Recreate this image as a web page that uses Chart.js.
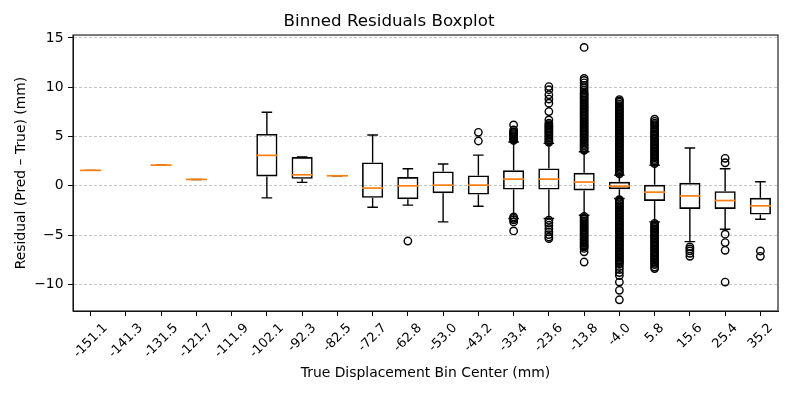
<!DOCTYPE html>
<html lang="en">
<head>
  <meta charset="UTF-8" />
  <title>Binned Residuals Boxplot</title>
  <script src="https://cdn.jsdelivr.net/npm/chart.js"></script>
  <style>
    body { margin: 0; background: #fff; }
    #wrap { width: 793px; height: 397px; }
  </style>
</head>
<body>
  <div id="wrap"><canvas id="boxChart" width="793" height="397"></canvas></div>

  <script>
    // bin centres (mm)
    const binLabels = ["-151.1", "-141.3", "-131.5", "-121.7", "-111.9", "-102.1", "-92.3", "-82.5", "-72.7", "-62.8",
                       "-53.0", "-43.2", "-33.4", "-23.6", "-13.8", "-4.0", "5.8", "15.6", "25.4", "35.2"];

    // box statistics per bin (null = empty bin)
    const median    = [1.57, null, 2.1, 0.65, null, 3.09, 1.12, 1.02, -0.23, 0.0, 0.07, 0.07, 0.68, 0.68, 0.38, -0.03, -0.64, -1.02, -1.49, -2.03];
    const q1        = [1.57, null, 2.1, 0.65, null, 0.95, 0.72, 1.02, -1.22, -1.35, -0.74, -0.88, -0.37, -0.37, -0.47, -0.34, -1.53, -2.34, -2.34, -2.91];
    const q3        = [1.57, null, 2.1, 0.65, null, 5.26, 2.92, 1.02, 2.38, 0.89, 1.46, 1.06, 1.57, 1.77, 1.32, 0.41, 0.10, 0.31, -0.54, -1.22];
    const whiskerLo = [1.57, null, 2.1, 0.65, null, -1.22, 0.35, 1.02, -2.17, -1.96, -3.66, -2.07, -3.32, -3.32, -2.98, -1.28, -3.66, -5.66, -4.41, -3.39];
    const whiskerHi = [1.57, null, 2.1, 0.65, null, 7.47, 2.92, 1.02, 5.16, 1.73, 2.21, 3.12, 4.45, 4.31, 3.46, 1.09, 2.10, 3.84, 1.73, 0.41];

    // fliers per bin
    const outliers = [
      [], [], [], [], [], [], [], [], [],
      [-5.6],
      [],
      [5.43, 4.55],
      [6.18, 5.67, 5.5, 5.4, 5.3, 5.2, 5.1, 5.0, 4.9, 4.8, 4.7, 4.6, -3.15, -3.3, -3.45, -3.66, -4.58],
      [10.07, 9.75, 9.23, 8.8, 8.39, 7.54, 6.69, 6.35, 6.2, 6.05, 5.9, 5.75, 5.6, 5.45, 5.3, 5.15, 5.0, 4.85, 4.7,
       4.55, 4.42, -3.49, -3.75, -4.0, -4.34, -4.68, -4.95, -5.19, -5.35],
      [14.04, 10.9, 10.7, 10.45, 10.2, 9.95, 9.7, 9.45, 9.3, 9.15, 9.0, 8.85, 8.7, 8.55, 8.4, 8.25, 8.1, 7.96, 7.8,
       7.65, 7.5, 7.34, 7.2, 7.06, 6.9, 6.75, 6.6, 6.46, 6.3, 6.15, 6.0, 5.86, 5.7, 5.55, 5.4, 5.26, 5.1, 4.95, 4.8,
       4.66, 4.5, 4.35, 4.2, 4.06, 3.9, 3.75, 3.6,
       -3.1, -3.25, -3.4, -3.56, -3.7, -3.85, -4.0, -4.16, -4.3, -4.45, -4.6, -4.76, -4.9, -5.05, -5.2, -5.36, -5.5,
       -5.65, -5.8, -5.96, -6.1, -6.2, -6.35, -6.7, -7.73],
      [1.2, 1.33, 1.47, 1.62, 1.76, 1.9, 2.05, 2.19, 2.34, 2.48, 2.63, 2.77, 2.92, 3.06, 3.21, 3.35, 3.5, 3.64, 3.79,
       3.93, 4.08, 4.22, 4.37, 4.51, 4.66, 4.8, 4.95, 5.09, 5.24, 5.38, 5.53, 5.67, 5.82, 5.96, 6.11, 6.25, 6.4, 6.54,
       6.69, 6.83, 6.98, 7.12, 7.27, 7.41, 7.56, 7.7, 7.85, 7.99, 8.14, 8.3, 8.48, 8.62, 8.75,
       -1.4, -1.54, -1.69, -1.83, -1.98, -2.12, -2.27, -2.41, -2.56, -2.7, -2.85, -2.99, -3.14, -3.28, -3.43, -3.57,
       -3.72, -3.86, -4.01, -4.15, -4.3, -4.44, -4.59, -4.73, -4.88, -5.02, -5.17, -5.31, -5.46, -5.6, -5.75, -5.89,
       -6.04, -6.18, -6.33, -6.47, -6.62, -6.76, -6.91, -7.05, -7.2, -7.34, -7.49, -7.63, -7.78, -7.92, -8.2, -8.5,
       -8.8, -9.1, -9.77, -10.6, -11.56],
      [2.25, 2.39, 2.54, 2.68, 2.83, 2.97, 3.12, 3.26, 3.41, 3.55, 3.7, 3.84, 3.99, 4.13, 4.28, 4.42, 4.57, 4.71, 4.86,
       5.0, 5.15, 5.29, 5.44, 5.6, 5.78, 6.0, 6.2, 6.35, 6.55, 6.76,
       -3.8, -3.94, -4.09, -4.23, -4.38, -4.52, -4.67, -4.81, -4.96, -5.1, -5.25, -5.39, -5.54, -5.68, -5.83, -5.97,
       -6.12, -6.26, -6.41, -6.55, -6.7, -6.84, -6.99, -7.13, -7.28, -7.42, -7.57, -7.71, -7.86, -8.0, -8.24, -8.4],
      [-6.2, -6.4, -6.6, -6.85, -7.15],
      [2.79, 2.34, -4.91, -5.76, -6.54, -9.77],
      [-6.61, -7.15]
    ];

    const yTicks = [-10, -5, 0, 5, 10, 15];

    const FONT = '"DejaVu Sans", sans-serif';

    const outlierPoints = [];
    outliers.forEach((list, i) => {
      list.forEach(v => outlierPoints.push({ x: binLabels[i], y: v }));
    });

    const boxParts = {
      id: 'boxParts',
      afterDatasetsDraw(chart) {
        const c = chart.ctx;
        const ys = chart.scales.y;
        const bars = chart.getDatasetMeta(0).data;
        c.save();
        c.setLineDash([]);
        bars.forEach((bar, i) => {
          if (median[i] === null) return;
          const x = bar.x;
          const half = bar.width / 2;
          const cap = bar.width / 4;
          const yHi = ys.getPixelForValue(whiskerHi[i]);
          const yLo = ys.getPixelForValue(whiskerLo[i]);
          c.strokeStyle = '#000';
          c.lineWidth = 1.4;
          c.beginPath();
          c.moveTo(x, ys.getPixelForValue(q3[i]));
          c.lineTo(x, yHi);
          c.moveTo(x, ys.getPixelForValue(q1[i]));
          c.lineTo(x, yLo);
          c.moveTo(x - cap, yHi);
          c.lineTo(x + cap, yHi);
          c.moveTo(x - cap, yLo);
          c.lineTo(x + cap, yLo);
          c.stroke();

          const ym = ys.getPixelForValue(median[i]);
          c.strokeStyle = '#ff7f0e';
          c.lineWidth = 1.7;
          c.beginPath();
          c.moveTo(x - half, ym);
          c.lineTo(x + half, ym);
          c.stroke();
        });
        c.restore();
      },
      afterDraw(chart) {
        const c = chart.ctx;
        const a = chart.chartArea;
        const xs = chart.scales.x;
        c.save();
        c.strokeStyle = '#222';
        c.lineWidth = 1.2;
        c.setLineDash([]);
        c.strokeRect(a.left, a.top, a.right - a.left, a.bottom - a.top);

        // rotated tick labels, centred under each tick like matplotlib
        c.font = '13px ' + FONT;
        c.fillStyle = '#000';
        c.textAlign = 'center';
        c.textBaseline = 'middle';
        binLabels.forEach((lab, i) => {
          const px = xs.getPixelForValue(i);
          const w = c.measureText(lab).width;
          const ext = (w + 14) * Math.SQRT1_2;
          c.save();
          c.translate(px, a.bottom + 10 + ext / 2);
          c.rotate(-Math.PI / 4);
          c.fillText(lab, 0, 0);
          c.restore();
        });
        c.restore();
      }
    };

    new Chart(document.getElementById('boxChart').getContext('2d'), {
      type: 'bar',
      data: {
        labels: binLabels,
        datasets: [{
          type: 'bar',
          data: binLabels.map((_, i) => (q1[i] === null ? null : [q1[i], q3[i]])),
          backgroundColor: 'rgba(0,0,0,0)',
          borderColor: '#000',
          borderWidth: 1.6,
          borderSkipped: false,
          barPercentage: 0.6,
          categoryPercentage: 1.0
        }, {
          type: 'line',
          data: outlierPoints,
          showLine: false,
          pointStyle: 'circle',
          pointRadius: 3.7,
          pointHoverRadius: 3.7,
          pointBorderWidth: 1.4,
          pointBorderColor: '#000',
          pointBackgroundColor: 'rgba(0,0,0,0)'
        }]
      },
      options: {
        responsive: false,
        animation: false,
        devicePixelRatio: 1,
        layout: { padding: { left: 0, right: 15, top: 0, bottom: 0 } },
        plugins: {
          legend: { display: false },
          tooltip: { enabled: false },
          title: {
            display: true,
            text: 'Binned Residuals Boxplot',
            color: '#000',
            font: { family: FONT, size: 16.7, weight: 'normal' },
            padding: { top: 11.7, bottom: 3.3 }
          }
        },
        scales: {
          x: {
            type: 'category',
            offset: true,
            grid: { display: true, drawOnChartArea: false, drawTicks: true, tickLength: 5, tickColor: '#000', tickWidth: 1, offset: false },
            border: { display: true, color: '#000', width: 1 },
            ticks: { display: false },
            title: {
              display: true,
              text: 'True Displacement Bin Center (mm)',
              color: '#000',
              font: { family: FONT, size: 13.9 },
              padding: { top: 0, bottom: 15.2 }
            },
            afterFit(scale) { scale.height = 86; }
          },
          y: {
            min: -12.7,
            max: 15.3,
            afterBuildTicks(scale) { scale.ticks = yTicks.map(v => ({ value: v })); },
            grid: { color: '#b8b8b8', lineWidth: 0.8, tickLength: 5, tickColor: '#000', tickWidth: 1, tickBorderDash: [] },
            border: { display: true, color: '#000', width: 1, dash: [3, 2] },
            ticks: {
              color: '#000',
              font: { family: FONT, size: 13.9 },
              padding: 4.5,
              callback: v => String(v).replace('-', '\u2212')
            },
            title: {
              display: true,
              text: 'Residual (Pred \u2013 True) (mm)',
              color: '#000',
              font: { family: FONT, size: 13.9 },
              padding: { top: 13.4, bottom: 0 }
            },
            afterFit(scale) { scale.width = 73; }
          }
        }
      },
      plugins: [boxParts]
    });
  </script>
</body>
</html>
